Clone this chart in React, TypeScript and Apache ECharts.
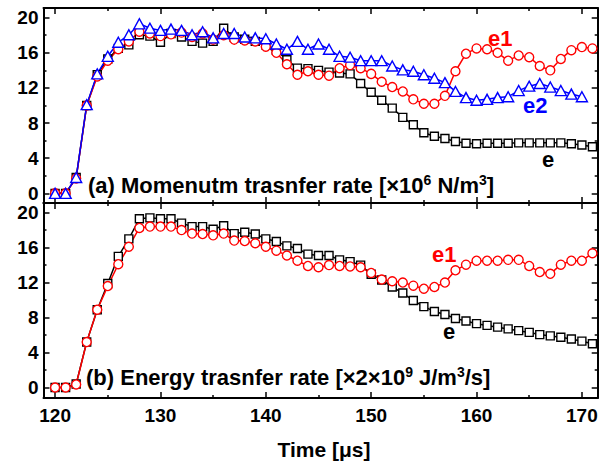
import React, { useEffect, useRef } from "react";
import * as echarts from "echarts";

// ---- data ----
const TIME = [
  120, 121, 122, 123, 124, 125, 126, 127, 128, 129, 130, 131, 132, 133, 134, 135, 136, 137, 138, 139,
  140, 141, 142, 143, 144, 145, 146, 147, 148, 149, 150, 151, 152, 153, 154, 155, 156, 157, 158, 159,
  160, 161, 162, 163, 164, 165, 166, 167, 168, 169, 170, 171,
];

// (a) momentum transfer rate
const MOM_E = [
  0, 0, 1.8, 10.0, 13.5, 15.3, 16.5, 16.9, 18.05, 17.9, 17.2, 18.2, 17.8, 17.3, 17.1, 17.3, 18.8, 17.8, 17.55, 17.3,
  16.9, 16.3, 15.2, 14.25, 14.2, 14.0, 13.8, 13.7, 13.6, 12.5, 11.5, 10.6, 9.7, 8.65, 7.8, 6.9, 6.5, 6.25, 5.9, 5.7,
  5.65, 5.7, 5.7, 5.7, 5.75, 5.75, 5.75, 5.75, 5.75, 5.65, 5.5, 5.3,
];
const MOM_E1 = [
  0, 0, 1.7, 10.0, 13.3, 15.1, 16.4, 17.3, 18.4, 18.2, 17.9, 18.1, 18.3, 17.8, 18.2, 17.5, 18.0, 17.5, 17.4, 17.3,
  16.7, 16.0, 14.7, 13.5, 13.9, 13.5, 13.4, 14.25, 14.6, 14.25, 13.6, 12.7, 12.1, 11.6, 10.7, 10.2, 10.2, 11.1, 13.9, 15.9,
  16.5, 16.4, 16.0, 15.1, 15.7, 15.5, 14.5, 14.0, 15.3, 16.3, 16.65, 16.5,
];
const MOM_E2 = [
  0, 0, 1.8, 10.1, 13.6, 15.6, 17.2, 18.05, 19.3, 18.8, 18.55, 18.7, 18.55, 18.05, 18.4, 17.7, 18.2, 18.2, 17.8, 17.7,
  17.6, 17.0, 16.4, 17.3, 16.4, 17.0, 16.4, 15.6, 15.5, 15.1, 15.1, 15.1, 14.5, 14.06, 13.9, 13.5, 13.1, 12.6, 11.6, 10.9,
  10.6, 10.7, 10.9, 11.0, 11.7, 12.2, 12.5, 12.1, 11.7, 11.3, 11.0,
];

// (b) energy transfer rate
const ENE_E = [
  0, 0, 0.4, 5.2, 8.9, 11.9, 15.0, 17.0, 19.3, 19.4, 19.3, 19.3, 18.8, 18.4, 18.4, 18.1, 18.5, 17.6, 17.75, 17.55,
  17.0, 16.7, 16.2, 15.9, 15.25, 15.1, 15.1, 14.6, 14.4, 14.0, 12.95, 12.3, 11.5, 10.8, 9.95, 9.25, 8.7, 8.35, 7.9, 7.6,
  7.3, 7.1, 6.9, 6.7, 6.5, 6.3, 6.05, 5.9, 5.75, 5.55, 5.3, 5.0,
];
const ENE_E1 = [
  0, 0, 0.35, 5.2, 8.9, 11.6, 14.1, 16.1, 18.25, 18.4, 18.4, 18.4, 18.0, 17.6, 17.55, 17.4, 17.6, 16.8, 16.75, 16.5,
  16.1, 15.65, 15.1, 14.5, 13.9, 13.75, 14.0, 13.9, 13.85, 13.75, 13.1, 12.35, 12.15, 12.0, 11.65, 11.3, 11.5, 12.0, 13.4, 14.05,
  14.5, 14.5, 14.5, 14.6, 14.6, 13.9, 13.2, 13.0, 14.05, 14.5, 14.5, 15.35,
];

// ---- ticks ----
const X_MAJOR = [120, 130, 140, 150, 160, 170];
const X_MINOR = [125, 135, 145, 155, 165];
const Y_MAJOR = [0, 4, 8, 12, 16, 20];
const Y_MINOR = [2, 6, 10, 14, 18];

const X_RANGE = [118.9, 171.5];
const Y_RANGE_A = [-1.1, 21.1];
const Y_RANGE_B = [-1.2, 21.1];

const FONT = 'Arial, "Liberation Sans", Helvetica, sans-serif';

function pairs(ys: number[]) {
  return ys.map((v, i) => [TIME[i], v]);
}

function xAxes(grid: number, showLabels: boolean) {
  const base = {
    type: "value",
    gridIndex: grid,
    min: X_RANGE[0],
    max: X_RANGE[1],
    splitLine: { show: false },
  };
  const mk = (position: string, ticks: number[], len: number, line: boolean, labels: boolean) => ({
    ...base,
    position,
    axisLine: { show: line, onZero: false, lineStyle: { color: "#000", width: 2 } },
    axisTick: { show: true, inside: true, length: len, customValues: ticks, lineStyle: { color: "#000", width: 1.5 } },
    axisLabel: labels
      ? { show: true, customValues: X_MAJOR, fontSize: 19, fontWeight: "bold", fontFamily: FONT, color: "#000", margin: 8 }
      : { show: false },
  });
  return [
    mk("bottom", X_MAJOR, 6, true, showLabels),
    mk("bottom", X_MINOR, 3, false, false),
    mk("top", X_MAJOR, 6, true, false),
    mk("top", X_MINOR, 3, false, false),
  ];
}

function yAxes(grid: number, range: number[]) {
  const base = {
    type: "value",
    gridIndex: grid,
    min: range[0],
    max: range[1],
    splitLine: { show: false },
  };
  const mk = (position: string, ticks: number[], len: number, line: boolean, labels: boolean) => ({
    ...base,
    position,
    axisLine: { show: line, onZero: false, lineStyle: { color: "#000", width: 2 } },
    axisTick: { show: true, inside: true, length: len, customValues: ticks, lineStyle: { color: "#000", width: 1.5 } },
    axisLabel: labels
      ? { show: true, customValues: Y_MAJOR, fontSize: 19, fontWeight: "bold", fontFamily: FONT, color: "#000", margin: 5 }
      : { show: false },
  });
  return [
    mk("left", Y_MAJOR, 6, true, true),
    mk("left", Y_MINOR, 3, false, false),
    mk("right", Y_MAJOR, 6, true, false),
    mk("right", Y_MINOR, 3, false, false),
  ];
}

function series(name: string, ys: number[], color: string, symbol: string, size: any, xi: number, yi: number) {
  return {
    name,
    type: "line",
    xAxisIndex: xi,
    yAxisIndex: yi,
    data: pairs(ys),
    symbol,
    symbolSize: size,
    showAllSymbol: true,
    lineStyle: { color, width: 1.5 },
    itemStyle: { color: "#fff", borderColor: color, borderWidth: 1.4 },
    z: 2,
  };
}

function txt(text: string, x: number, y: number, color: string, size: number, align = "left") {
  return {
    type: "text",
    x,
    y,
    style: {
      text,
      fill: color,
      font: `bold ${size}px ${FONT}`,
      textAlign: align,
      textVerticalAlign: "middle",
    },
    z: 10,
  };
}

function richTxt(text: string, x: number, y: number) {
  return {
    type: "text",
    x,
    y,
    style: {
      text,
      fill: "#000",
      font: `bold 22px ${FONT}`,
      textAlign: "left",
      textVerticalAlign: "middle",
      rich: {
        n: { fontSize: 22, fontWeight: "bold", fontFamily: FONT, fill: "#000", lineHeight: 24 },
        s: { fontSize: 14, fontWeight: "bold", fontFamily: FONT, fill: "#000", verticalAlign: "top", lineHeight: 14 },
      },
    },
    z: 10,
  };
}

export default function App() {
  const ref = useRef<HTMLDivElement>(null);
  useEffect(() => {
    document.body.style.margin = "0";
    const chart = echarts.init(ref.current!, null, { renderer: "svg" });
    chart.setOption({
      animation: false,
      backgroundColor: "#fff",
      grid: [
        { left: 43.5, right: 7.3, top: 8, height: 195 },
        { left: 43.5, right: 7.3, top: 203, height: 195 },
      ],
      xAxis: [...xAxes(0, false), ...xAxes(1, true)],
      yAxis: [...yAxes(0, Y_RANGE_A), ...yAxes(1, Y_RANGE_B)],
      series: [
        series("e", MOM_E, "#000", "rect", 8, 0, 0),
        series("e1", MOM_E1, "#ff0000", "circle", 9, 0, 0),
        series("e2", MOM_E2, "#0000ff", "triangle", [11, 10], 0, 0),
        series("e", ENE_E, "#000", "rect", 8, 4, 4),
        series("e1", ENE_E1, "#ff0000", "circle", 9, 4, 4),
      ],
      graphic: [
        richTxt("{n|(a) Momenutm trasnfer rate [×10}{s|6}{n| N/m}{s|3}{n|]}", 88, 185),
        richTxt("{n|(b) Energy trasnfer rate [×2×10}{s|9}{n| J/m}{s|3}{n|/s]}", 86, 377),
        txt("e1", 488, 38, "#ff0000", 22),
        txt("e2", 523, 105, "#0000ff", 22),
        txt("e", 542, 159, "#000", 22),
        txt("e1", 432, 254, "#ff0000", 22),
        txt("e", 443, 331, "#000", 22),
        txt("Time [μs]", 324, 449, "#000", 21, "center"),
      ],
    });
    return () => chart.dispose();
  }, []);
  return <div ref={ref} style={{ width: 605, height: 465 }} />;
}
